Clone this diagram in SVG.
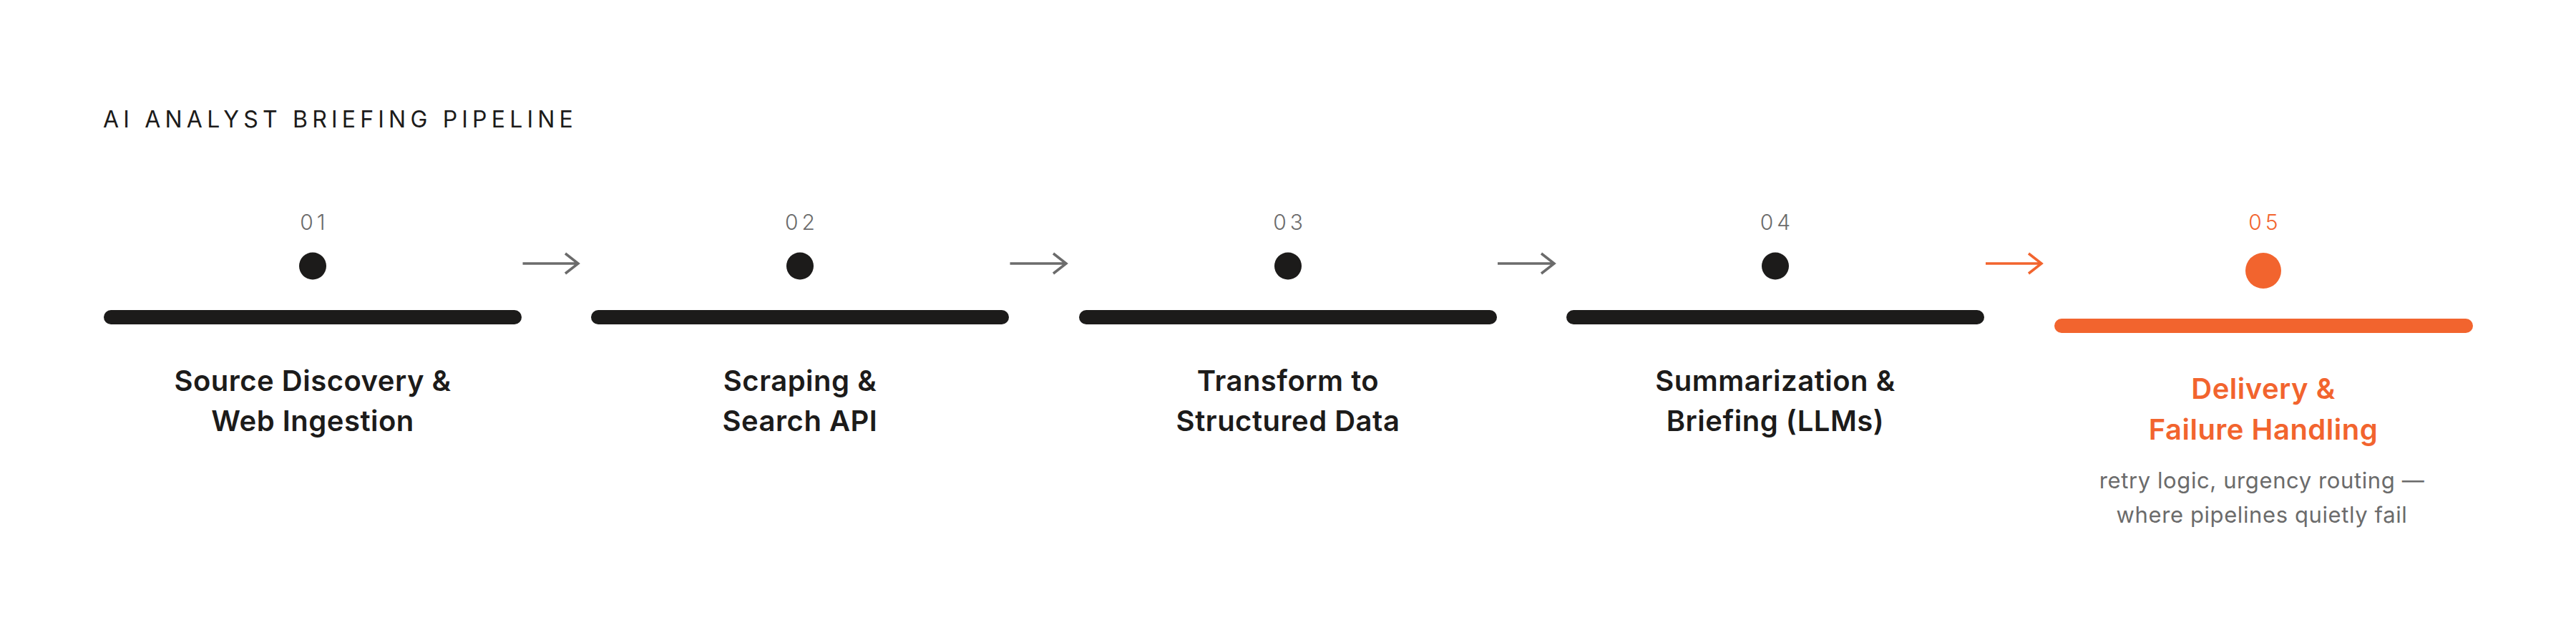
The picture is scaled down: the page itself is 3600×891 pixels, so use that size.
<svg xmlns="http://www.w3.org/2000/svg" width="3600" height="891" viewBox="0 0 3600 891">
<style>
.title{font-family:Inter,"Noto Sans",sans-serif;font-size:32px;font-weight:400;fill:#1c1b1a;letter-spacing:6.2px}
.num{font-family:Inter,"Noto Sans",sans-serif;font-size:30px;font-weight:300;fill:#6b6b6b;letter-spacing:5px;text-anchor:middle}
.lbl{font-family:Inter,"Noto Sans",sans-serif;font-size:40px;font-weight:600;fill:#1c1b1a;text-anchor:middle;letter-spacing:0.5px}
.sub{font-family:Inter,"Noto Sans",sans-serif;font-size:31px;font-weight:400;fill:#6b6b6b;text-anchor:middle;letter-spacing:0.6px}
.bar{fill:#1c1b1a}
.dot{fill:#1c1b1a}
.acc .num,.acc .lbl{fill:#f2642e}
.acc .bar,.acc .dot{fill:#f2642e}
.arr{fill:none;stroke:#6b6b6b;stroke-width:3.5}
.arr.hot{stroke:#f2642e}
</style>
<rect width="3600" height="891" fill="#ffffff"/>
<text class="title" x="144" y="178">AI ANALYST BRIEFING PIPELINE</text>
<g id="connectors">
<path class="arr" d="M730.5 368H808M790 354L808 368L790 382"/>
<path class="arr" d="M1411.5 368H1490M1472 354L1490 368L1472 382"/>
<path class="arr" d="M2093 368H2172M2154 354L2172 368L2154 382"/>
<path class="arr hot" d="M2775 368H2853M2835 354L2853 368L2835 382"/>
</g>
<g id="step1">
<text class="num" x="439.5" y="321">01</text>
<circle class="dot" cx="437" cy="371.5" r="19"/>
<rect class="bar" x="145" y="433" width="584" height="20" rx="10"/>
<text class="lbl" x="437" y="546">Source Discovery &amp;</text>
<text class="lbl" x="437" y="602">Web Ingestion</text>
</g>
<g id="step2">
<text class="num" x="1120.5" y="321">02</text>
<circle class="dot" cx="1118" cy="371.5" r="19"/>
<rect class="bar" x="826" y="433" width="584" height="20" rx="10"/>
<text class="lbl" x="1118" y="546">Scraping &amp;</text>
<text class="lbl" x="1118" y="602">Search API</text>
</g>
<g id="step3">
<text class="num" x="1802.5" y="321">03</text>
<circle class="dot" cx="1800" cy="371.5" r="19"/>
<rect class="bar" x="1508" y="433" width="584" height="20" rx="10"/>
<text class="lbl" x="1800" y="546">Transform to</text>
<text class="lbl" x="1800" y="602">Structured Data</text>
</g>
<g id="step4">
<text class="num" x="2483.5" y="321">04</text>
<circle class="dot" cx="2481" cy="371.5" r="19"/>
<rect class="bar" x="2189" y="433" width="584" height="20" rx="10"/>
<text class="lbl" x="2481" y="546">Summarization &amp;</text>
<text class="lbl" x="2481" y="602">Briefing (LLMs)</text>
</g>
<g id="step5" class="acc">
<text class="num" x="3165.5" y="321">05</text>
<circle class="dot" cx="3163" cy="378" r="25"/>
<rect class="bar" x="2871" y="445" width="585" height="20" rx="10"/>
<text class="lbl" x="3163" y="557">Delivery &amp;</text>
<text class="lbl" x="3163" y="614">Failure Handling</text>
<text class="sub" x="3161" y="682">retry logic, urgency routing —</text>
<text class="sub" x="3161" y="730">where pipelines quietly fail</text>
</g>
</svg>
